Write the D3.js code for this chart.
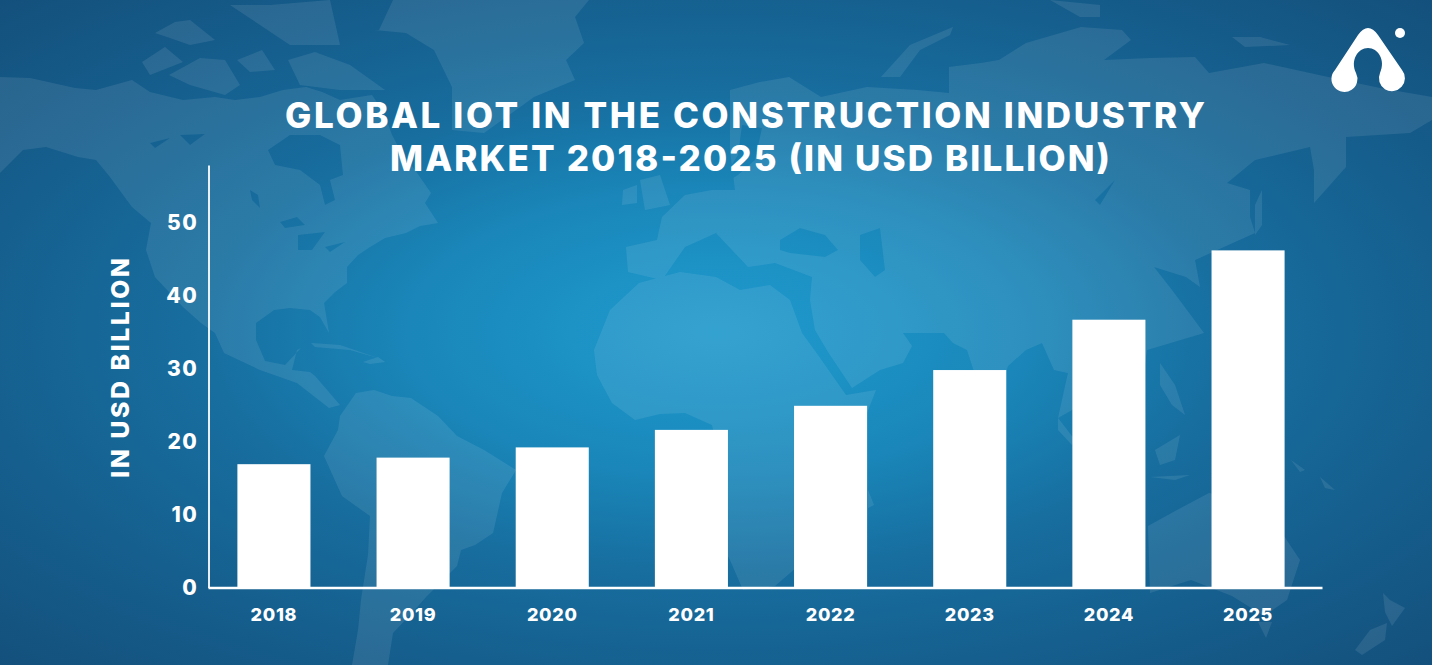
<!DOCTYPE html>
<html><head><meta charset="utf-8">
<script src="https://cdn.jsdelivr.net/npm/d3@7/dist/d3.min.js"></script>
<style>
html,body{margin:0;padding:0;width:1432px;height:665px;overflow:hidden;background:#15527f}
svg{display:block}
text{font-family:Inter,"Open Sans",sans-serif;font-weight:800;fill:#fff}
</style></head><body><svg id="c" width="1432" height="665"></svg>
<script>
const years = ["2018","2019","2020","2021","2022","2023","2024","2025"];
const marketValues = [16.9,17.8,19.2,21.6,24.9,29.8,36.7,46.2];
const yTicks = [0,10,20,30,40,50];
const titleLines = ["GLOBAL IOT IN THE CONSTRUCTION INDUSTRY","MARKET 2018-2025 (IN USD BILLION)"];
const yTitle = "IN USD BILLION";

// decorative backdrop: hand-traced world map outlines
const mapLand = [
 [[0,77],[30,78],[75,88],[96,90],[132,80],[150,92],[183,100],[215,97],[235,100],[260,97],[283,90],[306,87],[322,92],[340,100],[372,95],[384,113],[392,135],[400,150],[415,170],[431,193],[425,203],[438,223],[420,226],[406,233],[385,238],[370,247],[358,255],[347,267],[347,283],[335,292],[324,303],[329,333],[320,317],[310,310],[290,308],[274,310],[256,323],[256,340],[265,361],[285,365],[301,348],[297,350],[292,370],[310,372],[315,376],[340,405],[329,408],[297,383],[260,370],[224,353],[215,333],[201,323],[183,307],[155,277],[146,250],[151,223],[132,207],[110,177],[96,160],[78,157],[46,147],[23,150],[0,173]],
 [[142,62],[165,47],[183,62],[150,75]],[[169,75],[200,58],[225,60],[240,85],[225,95],[190,85]],[[155,33],[175,22],[190,20],[215,40],[190,45],[170,38]],[[237,60],[262,50],[275,70],[250,72]],[[288,60],[315,52],[350,65],[385,90],[340,90],[300,85]],[[230,5],[270,5],[330,0],[340,45],[290,45],[260,25]],
 [[311,343],[340,345],[378,358],[350,350],[315,347]],[[363,362],[378,357],[385,362],[370,364]],
 [[379,30],[393,0],[589,0],[575,17],[584,43],[566,60],[575,80],[534,97],[484,133],[452,130],[452,87],[434,50],[406,33],[374,30]],
 [[340,416],[356,393],[374,390],[392,396],[411,398],[438,416],[457,436],[484,450],[516,470],[502,493],[493,533],[475,545],[461,550],[457,566],[427,596],[410,615],[393,633],[388,665],[352,665],[358,630],[361,600],[368,555],[370,516],[342,496],[324,456],[338,430]],
 [[639,283],[610,310],[594,350],[597,375],[612,403],[635,420],[660,414],[685,413],[712,425],[722,470],[716,533],[730,560],[743,590],[775,586],[805,560],[826,533],[830,480],[867,413],[876,390],[846,395],[818,355],[802,333],[790,300],[770,285],[740,290],[716,277],[680,272]],
 [[628,272],[626,247],[657,240],[662,217],[685,195],[712,190],[735,190],[730,150],[730,90],[760,82],[789,77],[821,97],[867,87],[917,90],[949,93],[949,67],[981,63],[999,60],[1026,43],[1050,36],[1081,27],[1122,30],[1131,40],[1104,60],[1150,58],[1195,57],[1209,73],[1264,63],[1328,77],[1380,88],[1432,97],[1432,120],[1410,133],[1346,137],[1346,167],[1314,203],[1314,170],[1310,147],[1255,160],[1227,183],[1250,190],[1250,217],[1255,233],[1195,260],[1200,287],[1186,277],[1154,267],[1172,290],[1204,333],[1147,350],[1140,400],[1125,370],[1072,410],[1058,418],[1068,373],[1054,370],[1042,343],[1026,350],[1008,366],[990,420],[967,350],[953,343],[944,333],[903,333],[912,346],[903,363],[880,370],[852,388],[828,352],[815,330],[810,300],[812,277],[775,263],[748,267],[716,233],[685,247],[662,280]],
 [[640,180],[660,175],[670,205],[645,210]],[[623,190],[637,185],[637,203],[622,205]],
 [[881,77],[910,45],[953,27],[950,35],[920,50],[900,77],[885,77]],[[1050,0],[1100,5],[1100,17],[1080,17]],[[1232,37],[1260,37],[1290,45],[1245,47]],
 [[1148,526],[1177,510],[1209,493],[1250,500],[1282,533],[1300,560],[1287,600],[1264,616],[1232,596],[1191,580],[1150,593]],
 [[1258,622],[1272,622],[1266,638]],[[1355,650],[1370,630],[1387,623],[1385,640],[1362,655]],[[1383,593],[1390,600],[1405,608],[1392,626],[1385,612]],
 [[1160,363],[1175,385],[1185,415],[1172,405],[1160,385]],[[1155,450],[1180,435],[1175,460],[1160,465]],[[1150,477],[1190,475],[1175,480]],[[1262,190],[1262,225],[1255,235],[1255,205]],
 [[1058,418],[1075,440],[1072,445],[1058,430]],[[868,490],[874,505],[868,508]],[[1291,460],[1305,470],[1300,472]],[[1320,477],[1335,490],[1325,488]]
];
const mapWater = [
 [[268,150],[290,135],[320,135],[340,145],[343,175],[330,180],[335,200],[325,205],[320,185],[300,170],[275,165]],
 [[780,240],[800,228],[825,235],[838,250],[825,257],[790,253],[780,250]],
 [[860,235],[880,228],[885,270],[875,277],[860,260]],
 [[742,125],[762,128],[755,160],[738,175],[722,185],[725,175],[738,155]],
 [[280,222],[297,217],[305,225],[285,228]],[[298,235],[325,232],[312,250],[298,250]],[[325,247],[345,242],[330,252]],
 [[150,143],[170,138],[155,148]],[[180,135],[205,134],[190,145]],[[250,190],[258,195],[260,208],[252,200]],
 [[1095,200],[1115,180],[1100,205]]
];

const W = 1432, H = 665;
const svg = d3.select("#c");
const defs = svg.append("defs");
const grad = defs.append("radialGradient").attr("id","bg").attr("cx",.5).attr("cy",.5).attr("r",.72);
[[0,"#2199cc"],[.14,"#1c92c5"],[.3,"#1a86b9"],[.5,"#176e9f"],[.72,"#155f8e"],[1,"#144f7b"]]
 .forEach(([o,c])=>grad.append("stop").attr("offset",o).attr("stop-color",c));
svg.append("rect").attr("width",W).attr("height",H).attr("fill","url(#bg)");

const ring = d3.line().curve(d3.curveLinearClosed);
const mask = defs.append("mask").attr("id","sea").attr("maskUnits","userSpaceOnUse")
 .attr("x",0).attr("y",0).attr("width",W).attr("height",H);
mask.append("rect").attr("width",W).attr("height",H).attr("fill","#fff");
mask.selectAll("path").data(mapWater).join("path").attr("d",ring).attr("fill","#000");
svg.append("g").attr("opacity",.085).attr("mask","url(#sea)")
 .selectAll("path").data(mapLand).join("path").attr("d",ring).attr("fill","#fff");

// logo
svg.append("path").attr("fill","#fff")
 .attr("d","M1335,70 L1358,35 Q1368,21 1378,35 L1402,70 A13,13 0 1 1 1380,73 C1386,60 1378,48 1368,48 C1358,48 1350,60 1356,73 A13,13 0 1 1 1335,70 Z");
svg.append("circle").attr("cx",1400).attr("cy",33).attr("r",5).attr("fill","#fff");

// title
svg.selectAll(".title").data(titleLines).join("text").attr("class","title")
 .attr("x",(d,i)=>[745,750][i]).attr("y",(d,i)=>[128,171][i])
 .attr("text-anchor","middle").attr("font-size",35)
 .attr("textLength",(d,i)=>[920,720][i]).attr("lengthAdjust","spacing").text(d=>d);

// scales
const x = d3.scaleBand().domain(years).range([208,1322]).paddingInner(.475).paddingOuter(.24).align(.44);
const y = d3.scaleLinear().domain([0,57.9]).range([587.5,165]);

svg.selectAll(".bar").data(marketValues).join("rect").attr("class","bar")
 .attr("x",(d,i)=>x(years[i])).attr("width",x.bandwidth())
 .attr("y",d=>y(d)).attr("height",d=>y(0)-y(d)).attr("fill","#fff");

const gy = svg.append("g").attr("transform","translate(208.5,0)")
 .call(d3.axisLeft(y).tickValues(yTicks).tickSize(0).tickPadding(10));
gy.select(".domain").attr("stroke","#fff").attr("stroke-width",2).attr("opacity",.9);
gy.selectAll("text").attr("font-size",21).attr("letter-spacing",1.6).attr("font-family",null);

const gx = svg.append("g").attr("transform","translate(0,587.5)")
 .call(d3.axisBottom(x).tickSize(0).tickPadding(21));
gx.select(".domain").attr("stroke","#fff").attr("stroke-width",2.4);
gx.selectAll("text").attr("font-size",18).attr("letter-spacing",.7).attr("font-family",null);

svg.append("text").attr("transform","translate(129,368) rotate(-90)")
 .attr("text-anchor","middle").attr("font-size",25)
 .attr("textLength",220).attr("lengthAdjust","spacing").text(yTitle);
</script></body></html>
